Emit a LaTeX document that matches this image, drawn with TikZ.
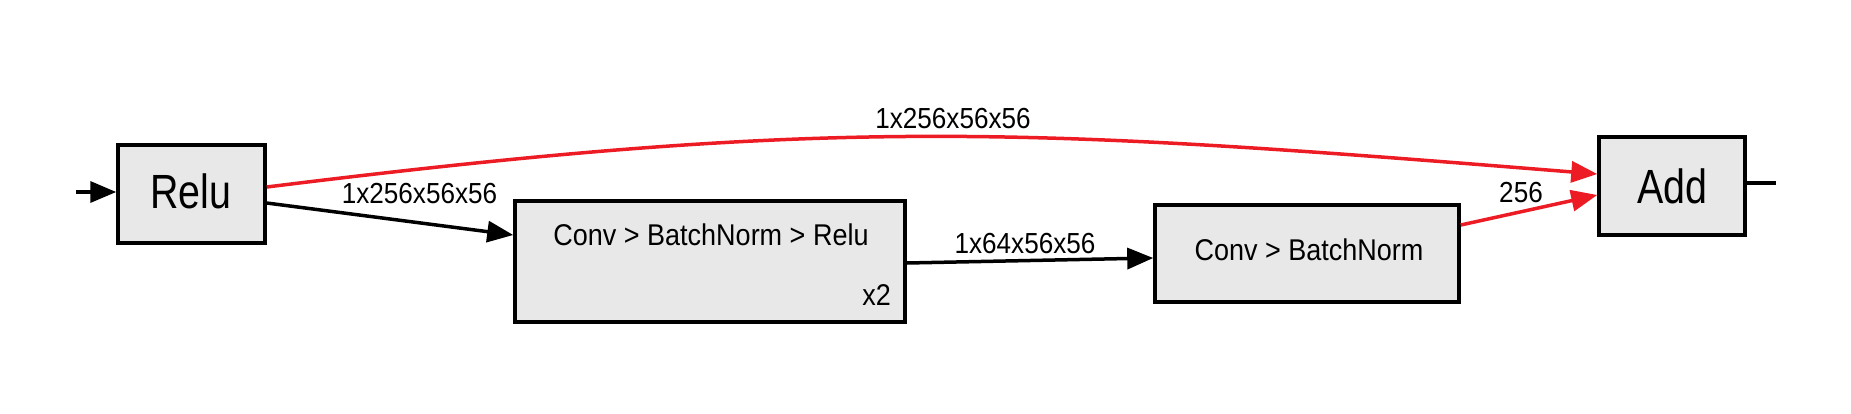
\documentclass[tikz,border=0pt]{standalone}
\usepackage{fontspec}
\usetikzlibrary{arrows.meta}
\newfontfamily\lblfont[FakeStretch=0.9]{Liberation Sans}
\newfontfamily\bigtxtfont[FakeStretch=0.82]{Liberation Sans}
\definecolor{boxgray}{HTML}{E8E8E8}
\definecolor{edgered}{HTML}{ED1C24}
\tikzset{
  opbox/.style={draw=black, fill=boxgray, line width=3.5pt, inner sep=0pt},
  bigtxt/.style={font=\bigtxtfont\fontsize{48}{54}\selectfont, anchor=base, inner sep=0pt},
  boxtxt/.style={font=\lblfont\fontsize{30}{36}\selectfont, anchor=base, inner sep=0pt},
  edgelbl/.style={font=\lblfont\fontsize{29}{34}\selectfont, anchor=base, inner sep=0pt},
  tip/.style={-{Triangle[length=26pt,width=21pt]}},
  blackedge/.style={draw=black, line width=3.5pt, tip},
  rededge/.style={draw=edgered, line width=3.5pt, -{Triangle[length=26pt,width=21pt,fill=edgered]}},
}
\begin{document}
\begin{tikzpicture}[x=1pt,y=-1pt]
\useasboundingbox (0,0) rectangle (1851,413);
% boxes
\node[opbox, minimum width=147pt, minimum height=98pt] (relu) at (191.5,194) {};
\node[opbox, minimum width=390pt, minimum height=121pt] (cbr) at (710,261.5) {};
\node[opbox, minimum width=304pt, minimum height=97pt] (cb) at (1307,253.5) {};
\node[opbox, minimum width=146pt, minimum height=98pt] (add) at (1672,186) {};
% box texts
\node[bigtxt] (relut) at (190.5,208) {Relu};
\node[bigtxt] (addt) at (1672.5,203) {Add};
\node[boxtxt] (cbrt) at (711,245) {Conv > BatchNorm > Relu};
\node[boxtxt] (cbrx) at (876.5,305) {x2};
\node[boxtxt] (cbt) at (1309,260) {Conv > BatchNorm};
% free ends
\coordinate (in) at (76,192);
\coordinate (out) at (1776,183);
% connectors
\draw[blackedge] (in) -- ([yshift=2pt]relu.west);
\draw[black, line width=3.5pt] ([yshift=3pt]add.east) -- (out);
\draw[rededge] ([yshift=7pt]relu.east) .. controls (839,116) and (1025,128) .. ([yshift=12pt]add.west);
\draw[blackedge] ([yshift=-9pt]relu.east) -- ([yshift=26.5pt]cbr.west);
\draw[blackedge] ([yshift=-1.5pt]cbr.east) -- ([yshift=-4.5pt]cb.west);
\draw[rededge] ([yshift=28.5pt]cb.east) -- ([yshift=-9pt]add.west);
% labels
\node[edgelbl] (l1) at (953,128.5) {1x256x56x56};
\node[edgelbl] (l2) at (419.5,203) {1x256x56x56};
\node[edgelbl] (l3) at (1025,253) {1x64x56x56};
\node[edgelbl] (l4) at (1521,202) {256};
\end{tikzpicture}
\end{document}
